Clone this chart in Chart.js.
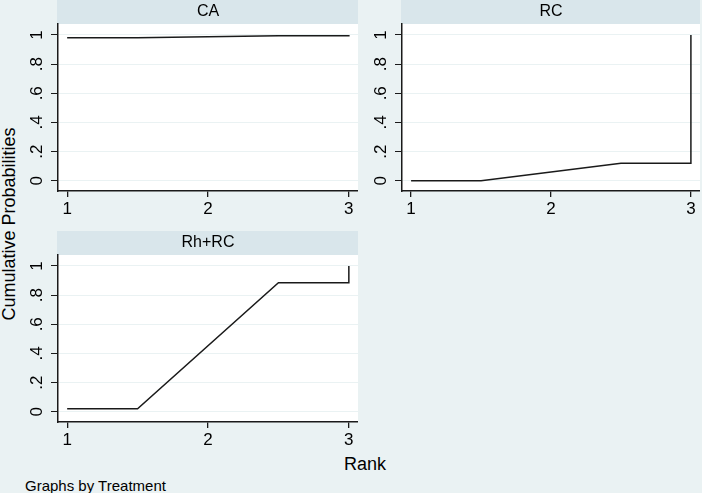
<!DOCTYPE html>
<html>
<head>
<meta charset="utf-8">
<script src="https://cdn.jsdelivr.net/npm/chart.js@4/dist/chart.umd.min.js"></script>
<style>
html,body{margin:0;padding:0;}
body{width:702px;height:493px;background:#eaf2f3;position:relative;overflow:hidden;font-family:"Liberation Sans",Arial,sans-serif;color:#000;}
canvas{position:absolute;}
.lbl{position:absolute;white-space:nowrap;}
#ytitle{left:9px;top:223.5px;font-size:18px;line-height:18px;transform:translate(-50%,-50%) rotate(-90deg);}
#xtitle{left:365px;top:463.5px;font-size:18px;line-height:18px;transform:translate(-50%,-50%);}
#note{left:25px;top:485px;font-size:15px;line-height:15px;transform:translateY(-50%);}
</style>
</head>
<body>
<div class="lbl" id="ytitle">Cumulative Probabilities</div>
<div class="lbl" id="xtitle">Rank</div>
<div class="lbl" id="note">Graphs by Treatment</div>
<canvas id="pA" width="358" height="222" style="left:0;top:0"></canvas>
<canvas id="pB" width="356" height="222" style="left:344px;top:0"></canvas>
<canvas id="pC" width="358" height="222" style="left:0;top:231px"></canvas>
<script>
// ---- data ----
const ranks = [1, 2, 3];
const xTickLabels = ['1', '2', '3'];
const yTickValues = [0, 0.2, 0.4, 0.6, 0.8, 1];
const yTickLabels = ['0', '.2', '.4', '.6', '.8', '1'];
const treatments = ['CA', 'RC', 'Rh+RC'];
const cumCA = [0.98, 0.995, 1.0];
const cumRC = [0.0, 0.12, 1.0];
const cumRhRC = [0.02, 0.885, 1.0];

const FONT = '"Liberation Sans", Arial, sans-serif';
const INK = '#1a1a1a';

// cumulative curve: plateau around each rank, linear between half-ranks, jump at last rank
function curvePoints(cum) {
  const n = ranks.length;
  const pts = [{x: ranks[0], y: cum[0]}];
  for (let i = 0; i < n - 1; i++) {
    pts.push({x: (ranks[i] + ranks[i + 1]) / 2, y: cum[i]});
  }
  pts.push({x: ranks[n - 1], y: cum[n - 2]});
  pts.push({x: ranks[n - 1], y: cum[n - 1]});
  return pts;
}

const panelPlugin = {
  id: 'panelDeco',
  beforeDraw(chart) {
    const ctx = chart.ctx, a = chart.chartArea, tb = chart.titleBlock;
    ctx.save();
    ctx.fillStyle = '#ffffff';
    ctx.fillRect(a.left, a.top, a.right - a.left, a.bottom - a.top);
    if (tb) {
      ctx.fillStyle = '#d9e6eb';
      ctx.fillRect(a.left - 1, tb.top, a.right - a.left + 1, tb.height);
    }
    ctx.restore();
  },
  afterDraw(chart) {
    const ctx = chart.ctx, ys = chart.scales.y, a = chart.chartArea;
    ctx.save();
    ctx.fillStyle = '#000';
    ctx.font = '17px ' + FONT;
    ctx.textAlign = 'center';
    ctx.textBaseline = 'middle';
    yTickValues.forEach((v, i) => {
      const y = ys.getPixelForValue(v);
      ctx.save();
      ctx.translate(a.left - 21, y);
      ctx.rotate(-Math.PI / 2);
      ctx.fillText(yTickLabels[i], 0, 0);
      ctx.restore();
    });
    ctx.restore();
  }
};

function makePanel(id, title, cum) {
  return new Chart(document.getElementById(id), {
    type: 'line',
    data: {
      datasets: [{
        data: curvePoints(cum),
        borderColor: INK,
        borderWidth: 1.5,
        pointRadius: 0,
        tension: 0,
        fill: false
      }]
    },
    options: {
      responsive: false,
      animation: false,
      events: [],
      layout: {padding: 0},
      plugins: {
        legend: {display: false},
        tooltip: {enabled: false},
        title: {
          display: true, text: title, fullSize: false, color: '#000', padding: 0,
          font: {family: FONT, size: 16, weight: 'normal', lineHeight: '24px'}
        }
      },
      scales: {
        x: {
          type: 'linear', min: 0.935, max: 3.065,
          afterBuildTicks: s => { s.ticks = ranks.map(v => ({value: v})); },
          afterFit: s => { s.height = 31; },
          grid: {drawOnChartArea: false, tickLength: 6, tickColor: INK, lineWidth: 1.3},
          border: {display: true, color: INK, width: 1.5},
          ticks: {
            color: '#000', padding: 2, maxRotation: 0, autoSkip: false,
            font: {family: FONT, size: 17},
            callback: (v) => xTickLabels[ranks.indexOf(v)]
          }
        },
        y: {
          type: 'linear', min: -0.07, max: 1.075,
          afterBuildTicks: s => { s.ticks = yTickValues.map(v => ({value: v})); },
          afterFit: s => { s.width = 58; },
          grid: {color: '#eaf2f3', lineWidth: 1, tickLength: 7, tickColor: INK},
          border: {display: true, color: INK, width: 1.5},
          ticks: {display: false}
        }
      }
    },
    plugins: [panelPlugin]
  });
}

makePanel('pA', treatments[0], cumCA);
makePanel('pB', treatments[1], cumRC);
makePanel('pC', treatments[2], cumRhRC);
</script>
</body>
</html>
